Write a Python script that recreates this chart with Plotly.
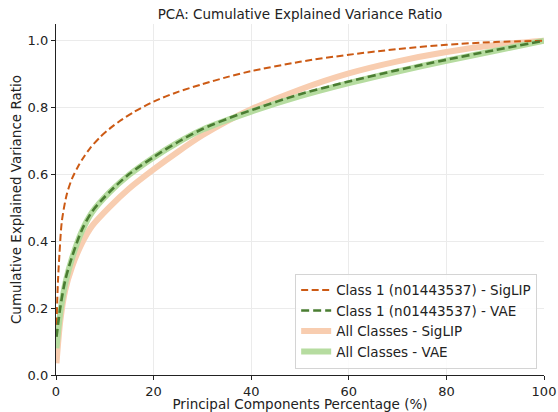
import plotly.graph_objects as go

# ---- data ----
x_c1_siglip = [0.1, 0.4, 0.7, 1.2, 2.2, 3.3, 4.5, 5.6, 7, 9, 11, 13, 16, 20, 25, 30, 35, 40, 50, 60, 70, 80, 90, 100]
y_c1_siglip = [0.15, 0.28, 0.36, 0.46, 0.54, 0.588, 0.623, 0.650, 0.679, 0.711, 0.737, 0.759, 0.787, 0.818, 0.847, 0.870, 0.891, 0.909, 0.937, 0.958, 0.975, 0.988, 0.996, 1.0]

x_c1_vae = [0.1, 0.9, 1.9, 3.3, 5.3, 7.4, 11, 15, 20, 25, 30, 37, 40, 50, 60, 70, 80, 90, 100]
y_c1_vae = [0.114, 0.204, 0.284, 0.354, 0.434, 0.489, 0.548, 0.601, 0.652, 0.697, 0.736, 0.777, 0.792, 0.840, 0.878, 0.912, 0.943, 0.972, 1.0]

x_all_siglip = [0.1, 0.9, 1.9, 3.3, 5.3, 7.4, 11, 15, 20, 25, 30, 35, 40, 50, 60, 70, 80, 90, 100]
y_all_siglip = [0.035, 0.164, 0.254, 0.324, 0.394, 0.446, 0.503, 0.558, 0.615, 0.668, 0.717, 0.759, 0.795, 0.854, 0.902, 0.938, 0.966, 0.987, 1.0]

x_all_vae = [0.1, 0.5, 1, 2, 3.3, 5.3, 7.4, 11, 15, 20, 25, 30, 40, 50, 60, 70, 80, 90, 100]
y_all_vae = [0.08, 0.14, 0.2, 0.28, 0.35, 0.43, 0.487, 0.547, 0.599, 0.651, 0.696, 0.734, 0.788, 0.834, 0.873, 0.908, 0.94, 0.97, 1.0]

x_ticks = [0, 20, 40, 60, 80, 100]
y_ticks = [0.0, 0.2, 0.4, 0.6, 0.8, 1.0]

FONT = "DejaVu Sans"

fig = go.Figure()
fig.add_trace(go.Scatter(x=x_all_siglip, y=y_all_siglip, mode="lines",
                         name="All Classes - SigLIP", legendrank=3,
                         line=dict(color="#f8cdb0", width=6, shape="spline", smoothing=0.8)))
fig.add_trace(go.Scatter(x=x_all_vae, y=y_all_vae, mode="lines",
                         name="All Classes - VAE", legendrank=4,
                         line=dict(color="#b6dca0", width=6, shape="spline", smoothing=0.8)))
fig.add_trace(go.Scatter(x=x_c1_siglip, y=y_c1_siglip, mode="lines",
                         name="Class 1 (n01443537) - SigLIP", legendrank=1,
                         line=dict(color="#cc5a14", width=2, dash="7px,3.5px", shape="spline", smoothing=0.8)))
fig.add_trace(go.Scatter(x=x_c1_vae, y=y_c1_vae, mode="lines",
                         name="Class 1 (n01443537) - VAE", legendrank=2,
                         line=dict(color="#4a7d32", width=2.6, dash="8px,4px", shape="spline", smoothing=0.8)))

fig.update_layout(
    width=558, height=412,
    margin=dict(l=56, r=14, t=24, b=37, autoexpand=False),
    paper_bgcolor="white", plot_bgcolor="white",
    font=dict(family=FONT, size=13, color="#222"),
    title=dict(text="PCA: Cumulative Explained Variance Ratio", x=300/558, xanchor="center",
               y=1 - 14/412, yanchor="middle", font=dict(size=13.5, color="#222")),
    legend=dict(x=0.986, y=0.018, xanchor="right", yanchor="bottom",
                bgcolor="rgba(255,255,255,0.85)", bordercolor="#d4d4d4", borderwidth=1,
                font=dict(size=13.5, color="#222"), tracegroupgap=0),
    showlegend=True,
)
fig.update_xaxes(range=[0, 100], tickvals=x_ticks, ticktext=[str(v) for v in x_ticks],
                 automargin=False,
                 showline=True, linecolor="#222", linewidth=1.3,
                 ticks="outside", ticklen=4, tickcolor="#222", tickwidth=1,
                 showgrid=True, gridcolor="#ebebeb", gridwidth=1, zeroline=False,
                 title=dict(text="Principal Components Percentage (%)", font=dict(size=13.5), standoff=5))
fig.update_yaxes(range=[0, 1.05], tickvals=y_ticks, ticktext=[f"{v:.1f}" for v in y_ticks],
                 automargin=False,
                 showline=True, linecolor="#222", linewidth=1.3,
                 ticks="outside", ticklen=4, tickcolor="#222", tickwidth=1,
                 showgrid=True, gridcolor="#ebebeb", gridwidth=1, zeroline=False,
                 title=dict(text="Cumulative Explained Variance Ratio", font=dict(size=13.5), standoff=2))

fig.write_html("out.html", config={"displayModeBar": False},
               post_script="document.body.style.margin='0';document.body.style.overflow='hidden';")
